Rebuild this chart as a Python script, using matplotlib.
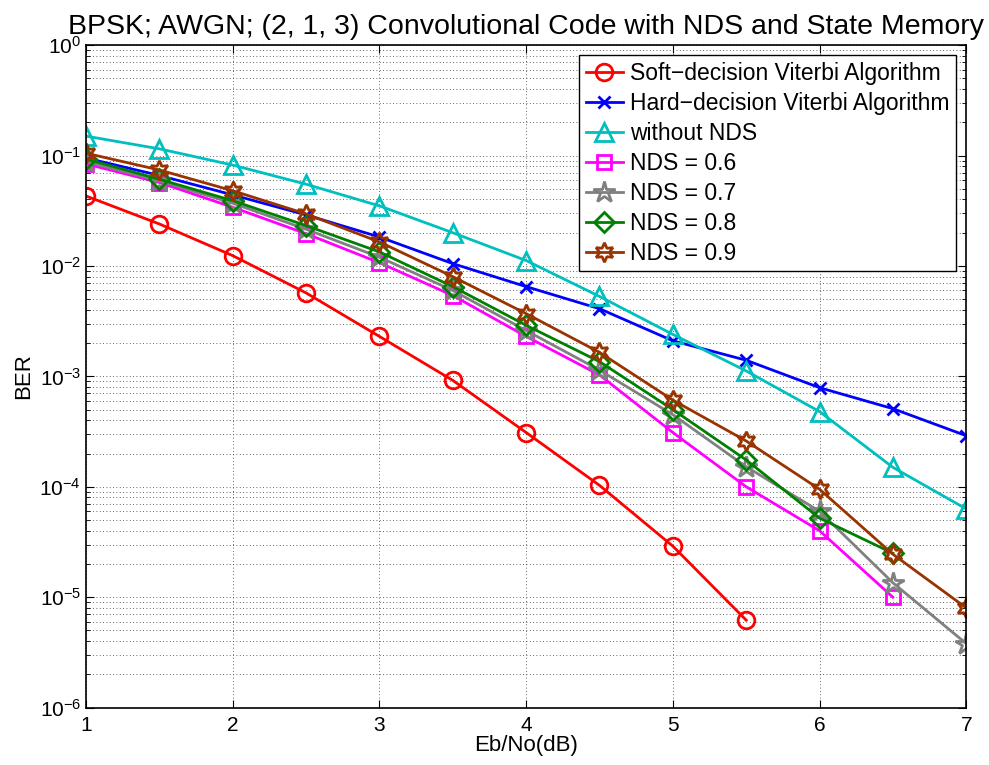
import matplotlib.pyplot as plt
import numpy as np
from matplotlib.ticker import LogLocator, NullFormatter

plt.rcParams['font.family'] = ['Liberation Sans', 'DejaVu Sans']
plt.rcParams['mathtext.fontset'] = 'custom'
plt.rcParams['mathtext.rm'] = 'Liberation Sans'

# Eb/No axis
ebno = [1, 1.5, 2, 2.5, 3, 3.5, 4, 4.5, 5, 5.5, 6, 6.5, 7]

# BER values
ber_soft = [0.043, 0.024, 0.0124, 0.0057, 0.0023, 9.2e-4, 3.1e-4, 1.03e-4, 2.9e-5, 6.2e-6]
ber_hard = [0.095, 0.066, 0.044, 0.029, 0.0183, 0.0105, 0.0065, 0.0041, 0.0021, 0.0014,
            7.9e-4, 5.1e-4, 2.9e-4]
ber_no_nds = [0.15, 0.115, 0.082, 0.055, 0.035, 0.020, 0.0112, 0.0053, 0.0024, 0.00112,
              4.8e-4, 1.5e-4, 6.3e-5]
ber_nds06 = [0.084, 0.057, 0.034, 0.0196, 0.0107, 0.0054, 0.0023, 0.00103, 3.1e-4, 1.0e-4,
             4.0e-5, 1.0e-5]
ber_nds07 = [0.088, 0.059, 0.037, 0.0215, 0.012, 0.006, 0.0026, 0.00114, 4.5e-4, 1.52e-4,
             6.0e-5, 1.35e-5, 3.8e-6]
ber_nds08 = [0.093, 0.061, 0.039, 0.0232, 0.0134, 0.0065, 0.0029, 0.00136, 5.0e-4, 1.75e-4,
             5.2e-5, 2.5e-5]
ber_nds09 = [0.105, 0.074, 0.048, 0.0296, 0.0165, 0.0080, 0.0037, 0.00165, 6.1e-4, 2.6e-4,
             9.5e-5, 2.45e-5, 8.0e-6]

fig = plt.figure(figsize=(9.89, 7.65), dpi=100)
ax = fig.add_axes([0.087, 0.075, 0.89, 0.866])

series = [
    (ber_soft, 'Soft\u2212decision Viterbi Algorithm', '#ff0000', 'o', 12),
    (ber_hard, 'Hard\u2212decision Viterbi Algorithm', '#0000ff', 'x', 9),
    (ber_no_nds, 'without NDS', '#00bfbf', '^', 13),
    (ber_nds06, 'NDS = 0.6', '#ff00ff', 's', 10),
    (ber_nds07, 'NDS = 0.7', '#808080', '*', 16),
    (ber_nds08, 'NDS = 0.8', '#008000', 'D', 10),
    (ber_nds09, 'NDS = 0.9', '#993300', (6, 1, 0), 14),
]

for vals, label, color, marker, ms in series:
    ax.semilogy(ebno[:len(vals)], vals, color=color, marker=marker, ms=ms,
                mfc='none', mec=color, mew=2, lw=2, label=label)

ax.set_xlim(1, 7)
ax.set_ylim(1e-6, 1)
ax.set_xticks([1, 2, 3, 4, 5, 6, 7])
ax.yaxis.set_major_locator(LogLocator(base=10, numticks=10))
ax.yaxis.set_minor_locator(LogLocator(base=10, subs=np.arange(2, 10), numticks=20))
ax.yaxis.set_minor_formatter(NullFormatter())
ax.grid(True, which='major', ls=(0, (1, 3)), color='#333333', lw=0.6)
ax.grid(True, which='minor', axis='y', ls=(0, (1, 3)), color='#333333', lw=0.6)
ax.tick_params(which='both', direction='in', top=True, right=True, labelsize=15)
ax.tick_params(which='major', length=6)
ax.tick_params(which='minor', length=3)
ax.tick_params(axis='x', pad=6)
for s in ax.spines.values():
    s.set_linewidth(1.2)

ax.set_title('BPSK; AWGN; (2, 1, 3) Convolutional Code with NDS and State Memory',
             fontsize=20.5, pad=8)
ax.set_xlabel('Eb/No(dB)', fontsize=16, labelpad=0)
ax.set_ylabel('BER', fontsize=16, labelpad=4)

leg = ax.legend(loc='upper right', fontsize=16.5, fancybox=False, framealpha=1,
                edgecolor='black', handlelength=1.6, handletextpad=0.3,
                borderaxespad=0.45, labelspacing=0.3, borderpad=0.3)
leg.get_frame().set_linewidth(1.0)

fig.savefig('out.png', dpi=100)
